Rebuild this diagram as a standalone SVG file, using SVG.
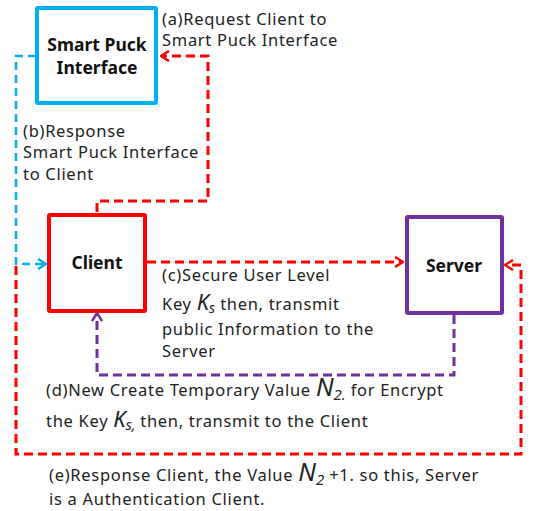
<svg xmlns="http://www.w3.org/2000/svg" width="536" height="511" viewBox="0 0 536 511">
<style>
.t{font-family:"Noto Sans","Liberation Sans",sans-serif;font-size:16.5px;letter-spacing:0.7px;fill:#222}
.b{font-family:"Noto Sans","Liberation Sans",sans-serif;font-size:17.5px;font-weight:bold;fill:#111;text-anchor:middle}
.m{font-family:"Noto Sans","Liberation Sans",sans-serif;font-style:italic;letter-spacing:0;fill:#222}
.red{fill:none;stroke:#FF0000;stroke-width:3;stroke-dasharray:9 5}
.blue{fill:none;stroke:#00B0F0;stroke-width:2.5;stroke-dasharray:8 5}
.pur{fill:none;stroke:#7030A0;stroke-width:3;stroke-dasharray:9 5}
</style>
<defs>
<marker id="ar" viewBox="0 0 10 12" refX="9" refY="6" markerWidth="10" markerHeight="12" markerUnits="userSpaceOnUse" orient="auto"><path d="M1,1 L9,6 L1,11" fill="none" stroke="#FF0000" stroke-width="2.5"/></marker>
<marker id="ab" viewBox="0 0 10 12" refX="9" refY="6" markerWidth="10" markerHeight="12" markerUnits="userSpaceOnUse" orient="auto"><path d="M1,1 L9,6 L1,11" fill="none" stroke="#00B0F0" stroke-width="2.5"/></marker>
<marker id="ap" viewBox="0 0 10 12" refX="9" refY="6" markerWidth="10" markerHeight="12" markerUnits="userSpaceOnUse" orient="auto"><path d="M1,1 L9,6 L1,11" fill="none" stroke="#7030A0" stroke-width="2.5"/></marker>
</defs>
<rect width="536" height="511" fill="#fff"/>
<g id="connectors">
<path class="blue" d="M36,56 H16 V264 H46" marker-end="url(#ab)"/>
<path class="red" d="M97,212 V201 H208 V56 H161" marker-end="url(#ar)"/>
<path class="red" d="M147,262 H403" marker-end="url(#ar)"/>
<path class="pur" d="M454,315 V375 H97 V313" marker-end="url(#ap)"/>
<path class="red" d="M16,266 V454 H521 V265 H505" marker-end="url(#ar)"/>
</g>
<g id="smartpuck">
<rect x="37" y="8" width="119" height="95" fill="#fff" stroke="#00B0F0" stroke-width="4" rx="1"/>
<text class="b" x="97" y="51">Smart Puck</text>
<text class="b" x="97" y="74">Interface</text>
</g>
<g id="client">
<rect x="49" y="215" width="96" height="96" fill="#fff" stroke="#FF0000" stroke-width="4" rx="1"/>
<text class="b" x="97" y="269">Client</text>
</g>
<g id="server">
<rect x="407" y="217" width="95" height="96" fill="#fff" stroke="#7030A0" stroke-width="4" rx="1"/>
<text class="b" x="454" y="272">Server</text>
</g>
<g id="labels">
<text class="t" x="162" y="25">(a)Request Client to</text>
<text class="t" x="162" y="46">Smart Puck Interface</text>
<text class="t" x="23" y="137">(b)Response</text>
<text class="t" x="23" y="158">Smart Puck Interface</text>
<text class="t" x="23" y="180">to Client</text>
<text class="t" x="162" y="281">(c)Secure User Level</text>
<text class="t" x="162" y="310">Key <tspan class="m" font-size="22">K</tspan><tspan class="m" font-size="14" dy="3">s</tspan><tspan dy="-3"> then, transmit</tspan></text>
<text class="t" x="162" y="335">public Information to the</text>
<text class="t" x="162" y="357">Server</text>
<text class="t" x="46" y="396">(d)New Create Temporary Value <tspan class="m" font-size="25">N</tspan><tspan class="m" font-size="15" dy="4">2.</tspan><tspan dy="-4"> for Encrypt</tspan></text>
<text class="t" x="46" y="427">the Key <tspan class="m" font-size="22">K</tspan><tspan class="m" font-size="14" dy="3">s,</tspan><tspan dy="-3"> then, transmit to the Client</tspan></text>
<text class="t" x="49" y="481">(e)Response Client, the Value <tspan class="m" font-size="25">N</tspan><tspan class="m" font-size="15" dy="4">2</tspan><tspan dy="-4"> +1. so this, Server</tspan></text>
<text class="t" x="49" y="505">is a Authentication Client.</text>
</g>
</svg>
